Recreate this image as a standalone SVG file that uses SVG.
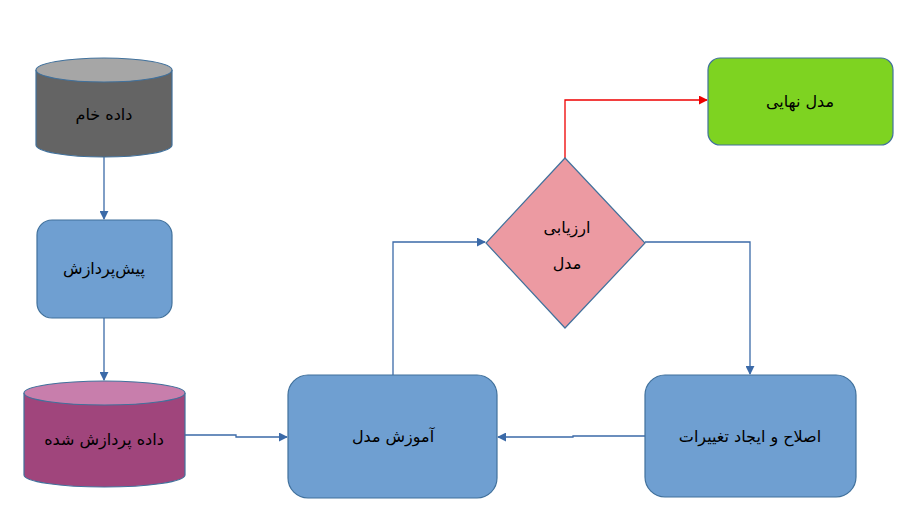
<svg xmlns="http://www.w3.org/2000/svg" width="914" height="526" viewBox="0 0 914 526">
<style>
.t{font-family:"DejaVu Sans","Noto Sans",sans-serif;font-size:16px;fill:#000;text-anchor:middle;dominant-baseline:middle}
.s{stroke:#41719c;stroke-width:1.2}
.c{fill:none;stroke:#3b6aa8;stroke-width:1.3}
</style>
<defs>
<marker id="a" viewBox="0 0 10 10" refX="9" refY="5" markerWidth="9" markerHeight="9" markerUnits="userSpaceOnUse" orient="auto"><path d="M0,0L10,5L0,10z" fill="#3b6aa8"/></marker>
<marker id="r" viewBox="0 0 10 10" refX="9" refY="5" markerWidth="9" markerHeight="9" markerUnits="userSpaceOnUse" orient="auto"><path d="M0,0L10,5L0,10z" fill="#e00"/></marker>
</defs>
<rect width="914" height="526" fill="#fff"/>
<g id="connectors">
<path class="c" d="M104,157V219" marker-end="url(#a)"/>
<path class="c" d="M104,318V380" marker-end="url(#a)"/>
<path class="c" d="M185,435H236V437H287" marker-end="url(#a)"/>
<path class="c" d="M645,436H573V437H498" marker-end="url(#a)"/>
<path class="c" d="M393,375V242H485" marker-end="url(#a)"/>
<path class="c" d="M645,242H750V374" marker-end="url(#a)"/>
<path fill="none" stroke="#e00" stroke-width="1.3" d="M565,158V100H707" marker-end="url(#r)"/>
</g>
<g id="raw">
<path class="s" fill="#646464" d="M36,70V145A68,12 0 0 0 172,145V70"/>
<ellipse class="s" cx="104" cy="70" rx="68" ry="12" fill="#a6a6a6"/>
<text class="t" x="104" y="115">داده خام</text>
</g>
<g id="pre">
<rect class="s" x="37" y="220" width="135" height="98" rx="15" fill="#6f9fd1"/>
<text class="t" x="104" y="269">پیش‌پردازش</text>
</g>
<g id="processed">
<path class="s" fill="#a0457c" d="M24,393V475A80.5,12 0 0 0 185,475V393"/>
<ellipse class="s" cx="104.5" cy="393" rx="80.5" ry="12" fill="#c87eac"/>
<text class="t" x="104" y="440">داده پردازش شده</text>
</g>
<g id="train">
<rect class="s" x="288" y="375" width="209" height="123" rx="20" fill="#6f9fd1"/>
<text class="t" x="393" y="437">آموزش مدل</text>
</g>
<g id="fix">
<rect class="s" x="645" y="375" width="211" height="122" rx="20" fill="#6f9fd1"/>
<text class="t" x="750" y="437">اصلاح و ایجاد تغییرات</text>
</g>
<g id="eval">
<path class="s" fill="#ec9aa2" d="M565,158L645,243L565,328L486,243z"/>
<text class="t" x="567" y="228">ارزیابی</text>
<text class="t" x="567" y="264">مدل</text>
</g>
<g id="final">
<rect class="s" x="708" y="58" width="185" height="87" rx="12" fill="#7ed321"/>
<text class="t" x="800" y="102">مدل نهایی</text>
</g>
</svg>
